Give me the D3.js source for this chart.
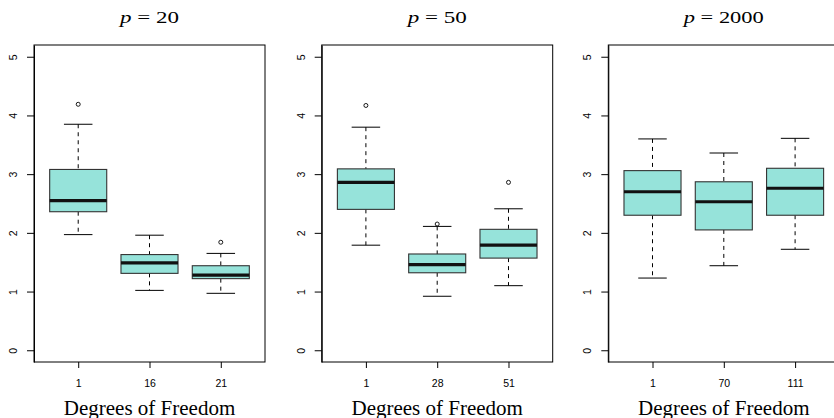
<!DOCTYPE html>
<html>
<head>
<meta charset="utf-8">
<script src="https://cdn.jsdelivr.net/npm/d3@7"></script>
<style>
  body { margin: 0; background: #fff; }
  svg { display: block; }
  .tick text { font-family: "Liberation Sans", Arial, sans-serif; font-size: 10.5px; fill: #000; }
</style>
</head>
<body>
<div class="chart"></div>
<script>
// values
const panelP = ["20", "50", "2000"];
const dfLabels = [["1", "16", "21"], ["1", "28", "51"], ["1", "70", "111"]];
const lowerWhisker = [[1.97, 1.02, 0.97], [1.79, 0.92, 1.10], [1.23, 1.44, 1.72]];
const q1 = [[2.36, 1.31, 1.22], [2.40, 1.32, 1.57], [2.30, 2.05, 2.30]];
const medians = [[2.55, 1.49, 1.28], [2.86, 1.46, 1.79], [2.70, 2.53, 2.76]];
const q3 = [[3.08, 1.63, 1.44], [3.09, 1.64, 2.06], [3.06, 2.87, 3.10]];
const upperWhisker = [[3.85, 1.96, 1.65], [3.80, 2.11, 2.41], [3.60, 3.36, 3.61]];
const outliers = [[[4.19], [], [1.84]], [[4.17], [2.15], [2.86]], [[], [], []]];
const yTicks = [0, 1, 2, 3, 4, 5];

const width = 834,
    height = 418,
    plotTop = 45,
    plotBottom = 362,
    plotWidth = 231,
    panelLefts = [34, 321.7, 608.3],
    boxFill = "#96e3da",
    serif = "'Liberation Serif', 'Times New Roman', serif";

const svg = d3.select("div.chart")
    .append("svg")
    .attr("width", width)
    .attr("height", height);

// R style: ylim 0..5 padded 4%
const y = d3.scaleLinear().domain([-0.2, 5.2]).range([plotBottom, plotTop]);

panelP.forEach((p, pi) => {
    const left = panelLefts[pi];
    const x = d3.scaleLinear().domain([0.38, 3.62]).range([left, left + plotWidth]);
    const unit = x(2) - x(1),
        boxW = unit * 0.8,
        stapleW = boxW / 2;

    const g = svg.append("g");

    // boxes
    dfLabels[pi].forEach((lab, i) => {
        const cx = x(i + 1);
        const b = g.append("g");

        // whiskers (dashed)
        b.append("line")
            .attr("x1", cx).attr("x2", cx)
            .attr("y1", y(upperWhisker[pi][i])).attr("y2", y(q3[pi][i]))
            .attr("stroke", "#000").attr("stroke-dasharray", "4,4");
        b.append("line")
            .attr("x1", cx).attr("x2", cx)
            .attr("y1", y(q1[pi][i])).attr("y2", y(lowerWhisker[pi][i]))
            .attr("stroke", "#000").attr("stroke-dasharray", "4,4");

        // staples
        [upperWhisker[pi][i], lowerWhisker[pi][i]].forEach(v => {
            b.append("line")
                .attr("x1", cx - stapleW / 2).attr("x2", cx + stapleW / 2)
                .attr("y1", y(v)).attr("y2", y(v))
                .attr("stroke", "#000");
        });

        b.append("rect")
            .attr("x", cx - boxW / 2)
            .attr("y", y(q3[pi][i]))
            .attr("width", boxW)
            .attr("height", y(q1[pi][i]) - y(q3[pi][i]))
            .attr("fill", boxFill)
            .attr("stroke", "#333")
            .attr("stroke-width", 1.1);

        b.append("line")
            .attr("x1", cx - boxW / 2).attr("x2", cx + boxW / 2)
            .attr("y1", y(medians[pi][i])).attr("y2", y(medians[pi][i]))
            .attr("stroke", "#111").attr("stroke-width", 3.2);

        b.selectAll("circle")
            .data(outliers[pi][i])
            .enter()
            .append("circle")
            .attr("cx", cx)
            .attr("cy", d => y(d))
            .attr("r", 2)
            .attr("fill", "none")
            .attr("stroke", "#000")
            .attr("stroke-width", 0.9);
    });

    // axes
    const yAxis = d3.axisLeft(y).tickValues(yTicks).tickSize(7).tickSizeOuter(0).tickFormat(d3.format("d"));
    const ya = g.append("g").attr("transform", `translate(${left},0)`).call(yAxis);
    ya.selectAll(".tick text")
        .attr("x", null)
        .attr("dy", null)
        .attr("text-anchor", "middle")
        .attr("transform", "translate(-17,0) rotate(-90)");

    const xAxis = d3.axisBottom(x).tickValues([1, 2, 3]).tickSize(6).tickSizeOuter(0)
        .tickFormat((d, i) => dfLabels[pi][i]);
    const xa = g.append("g").attr("transform", `translate(0,${plotBottom})`).call(xAxis);
    xa.select(".domain").remove();
    xa.selectAll(".tick text").attr("y", 18).attr("dy", "0.71em");

    // frame
    g.append("rect")
        .attr("x", left).attr("y", plotTop)
        .attr("width", plotWidth).attr("height", plotBottom - plotTop)
        .attr("fill", "none").attr("stroke", "#000");

    const mid = left + plotWidth / 2;
    // math title, glyphs are drawn wide in the original
    const t = g.append("text")
        .attr("x", mid).attr("y", 23)
        .attr("text-anchor", "middle")
        .attr("textLength", 38 + 10.5 * p.length)
        .attr("lengthAdjust", "spacingAndGlyphs")
        .style("font-family", serif)
        .style("font-size", "17px");
    t.append("tspan").style("font-style", "italic").text("p");
    t.append("tspan").text(" = " + p);

    g.append("text")
        .attr("x", mid).attr("y", 414.5)
        .attr("text-anchor", "middle")
        .style("font-family", serif)
        .style("font-size", "21px")
        .text("Degrees of Freedom");
});
</script>
</body>
</html>
